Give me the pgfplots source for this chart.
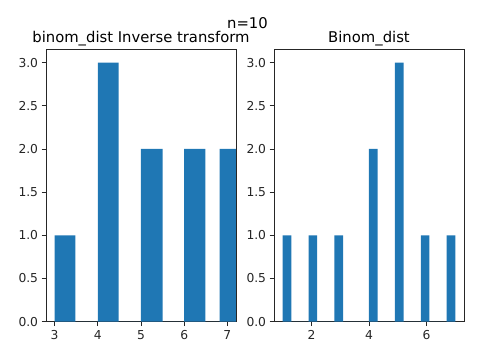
\documentclass[border=0pt]{standalone}
\usepackage{pgfplots}
\pgfplotsset{compat=1.18}
\usepackage{fontspec}
\setmainfont{DejaVu Sans}
\definecolor{mplblue}{HTML}{1F77B4}
\definecolor{tickgray}{HTML}{262626}
\begin{document}
\begin{tikzpicture}
\path[use as bounding box] (-46pt,-33.3pt) rectangle (437pt,321.7pt);
\pgfplotsset{
  hist/.style={
    scale only axis, width=190pt, height=272pt,
    ymin=0, ymax=3.15,
    ytick={0,0.5,...,3.0},
    yticklabel style={/pgf/number format/.cd, fixed, fixed zerofill, precision=1},
    /pgf/number format/assume math mode=true,
    tick align=outside, tick pos=left,
    major tick length=4.4pt,
    every tick/.style={tickgray, line width=0.9pt},
    axis line style={line width=0.9pt, tickgray},
    ticklabel style={font=\fontsize{12.3}{14}\selectfont, text=tickgray},
    xticklabel style={yshift=-1pt},
    title style={font=\fontsize{14.8}{17}\selectfont, at={(0.5,1)}, anchor=base, yshift=1pt},
  }
}
\begin{axis}[hist, at={(0pt,0pt)}, anchor=south west,
  xmin=2.8, xmax=7.2, xtick={3,4,5,6,7},
  title={binom\_dist Inverse transform}]
\addplot[ybar interval, fill=mplblue, draw=none] coordinates {
(3.0,1)(3.48,0)(4.0,3)(4.48,0)(5.0,2)(5.5,0)(6.0,2)(6.49,0)(6.82,2)(7.3,0)};
\end{axis}
\begin{axis}[hist, at={(228pt,0pt)}, anchor=south west,
  xmin=0.7, xmax=7.3, xtick={2,4,6},
  title={Binom\_dist}]
\addplot[ybar interval, fill=mplblue, draw=none] coordinates {
(1.0,1)(1.3,0)(1.9,1)(2.2,0)(2.8,1)(3.1,0)(4.0,2)(4.3,0)(4.9,3)(5.2,0)(5.8,1)(6.1,0)(6.7,1)(7.0,0)};
\end{axis}
\node[font=\fontsize{14.8}{17}\selectfont, anchor=base] at (201.5pt,293pt) {n=10};
\end{tikzpicture}
\end{document}
